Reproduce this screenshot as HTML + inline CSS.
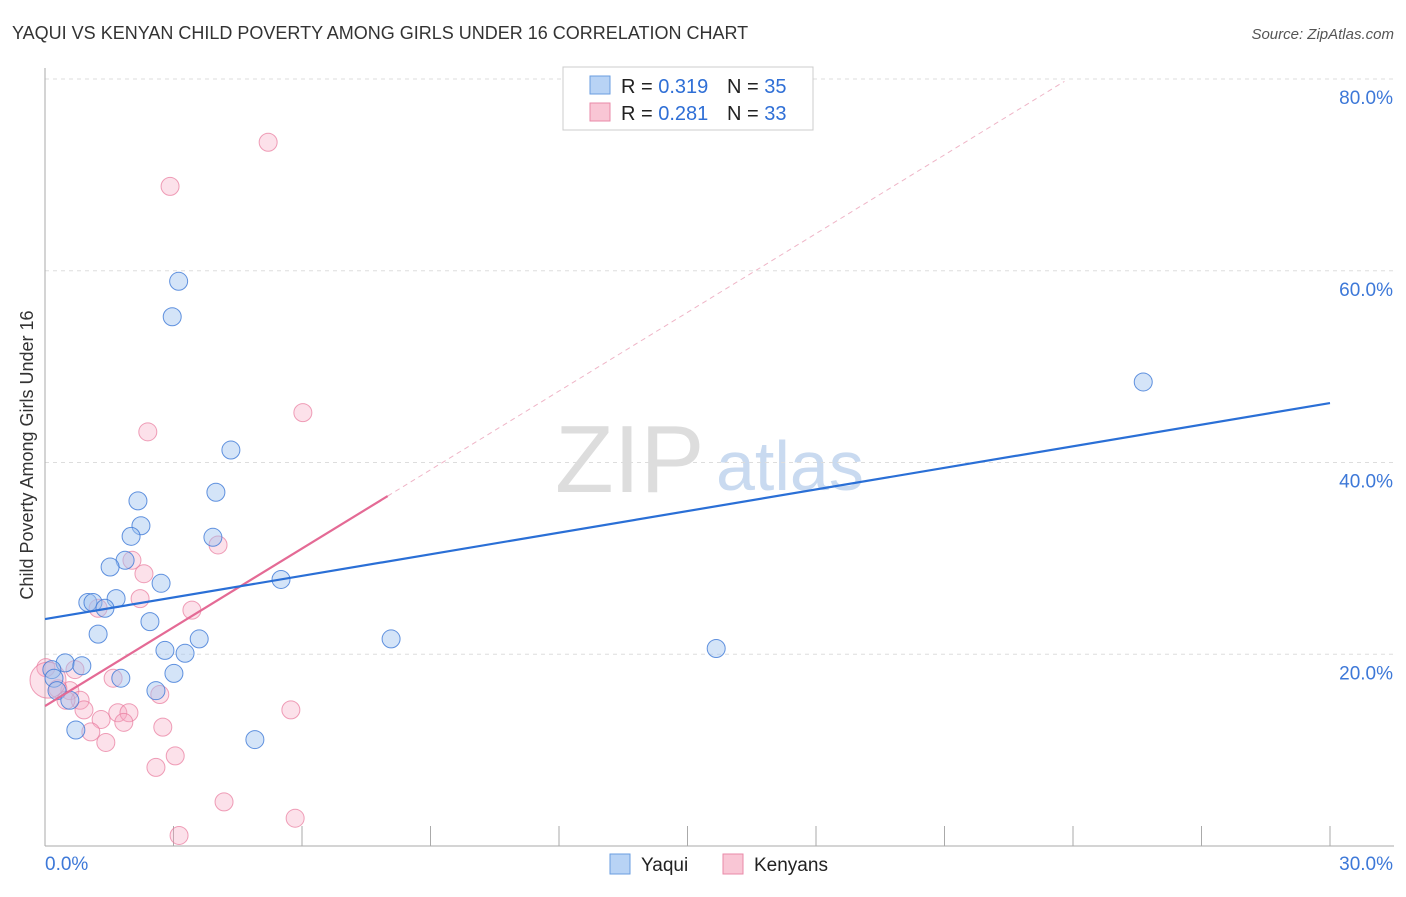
<!DOCTYPE html>
<html><head><meta charset="utf-8"><style>
body{margin:0;background:#fff;font-family:"Liberation Sans",sans-serif;}
svg text{font-family:"Liberation Sans",sans-serif;}
</style></head><body>
<svg id="chart" width="1406" height="892" xmlns="http://www.w3.org/2000/svg">
<text x="12" y="39" font-size="18" fill="#333">YAQUI VS KENYAN CHILD POVERTY AMONG GIRLS UNDER 16 CORRELATION CHART</text>
<text x="1394" y="39" font-size="15" fill="#555" text-anchor="end" font-style="italic">Source: ZipAtlas.com</text>
<text transform="translate(33,455) rotate(-90)" font-size="18" fill="#333" text-anchor="middle">Child Poverty Among Girls Under 16</text>
<text x="555" y="492" font-size="96" fill="#ddd" font-family="Liberation Serif">ZIP</text>
<text x="716" y="490" font-size="70" fill="#c9daf0">atlas</text>
<g id="grid"></g><g id="marks"></g>
<g>
<rect x="563" y="67" width="250" height="63" fill="#fff" stroke="#ccc"/>
<rect x="590" y="76" width="20" height="18" fill="#b8d3f5" stroke="#6a9ee0"/>
<rect x="590" y="103" width="20" height="18" fill="#f9c6d5" stroke="#e98aa8"/>
<text x="621" y="93" font-size="20" fill="#222">R = <tspan fill="#2f6fd6">0.319</tspan></text>
<text x="727" y="93" font-size="20" fill="#222">N = <tspan fill="#2f6fd6">35</tspan></text>
<text x="621" y="120" font-size="20" fill="#222">R = <tspan fill="#2f6fd6">0.281</tspan></text>
<text x="727" y="120" font-size="20" fill="#222">N = <tspan fill="#2f6fd6">33</tspan></text>
</g>
<g>
<rect x="610" y="854" width="20" height="20" fill="#b8d3f5" stroke="#6a9ee0"/>
<text x="641" y="871" font-size="19" fill="#222">Yaqui</text>
<rect x="723" y="854" width="20" height="20" fill="#f9c6d5" stroke="#e98aa8"/>
<text x="754" y="871" font-size="19" fill="#222">Kenyans</text>
</g>
</svg>
<script>
const yTicks=[20,40,60,80];
const yTickLabels=["20.0%","40.0%","60.0%","80.0%"];
const xTicks=[0,3,6,9,12,15,18,21,24,27,30];
const yaquiX=[3.12,2.97,4.34,3.99,2.17,2.24,2.01,3.92,1.87,1.52,2.71,5.51,1.66,1.0,1.12,1.4,2.45,1.24,3.6,8.08,2.8,3.27,15.67,0.47,0.86,0.16,0.21,1.77,3.01,2.59,0.28,0.58,0.72,4.9,25.64];
const yaquiY=[58.9,55.2,41.3,36.9,36.0,33.4,32.3,32.2,29.8,29.1,27.4,27.8,25.8,25.4,25.4,24.8,23.4,22.1,21.6,21.6,20.4,20.1,20.6,19.1,18.8,18.4,17.5,17.5,18.0,16.2,16.2,15.2,12.1,11.1,48.4];
const kenyanX=[5.21,2.92,6.02,2.4,4.04,2.03,2.31,2.22,1.24,3.43,0.7,1.59,0.02,0.58,0.3,0.82,0.49,2.68,0.91,1.31,1.7,1.96,1.84,2.75,1.07,1.42,5.74,3.04,2.59,4.18,5.84,3.13,0.07];
const kenyanY=[73.4,68.8,45.2,43.2,31.4,29.8,28.4,25.8,24.8,24.6,18.4,17.5,18.6,16.2,16.4,15.2,15.2,15.8,14.2,13.2,13.9,13.9,12.9,12.4,11.9,10.8,14.2,9.4,8.2,4.6,2.9,1.1,17.3];
const yaquiLine=[23.67,46.2];
const kenyanLine=[14.6,36.5];
const X0=45,X1=1330,Y0=846,Y1=79;
const sx=v=>X0+(X1-X0)*v/30, sy=v=>Y0-(Y0-Y1)*v/80;
const NS="http://www.w3.org/2000/svg";
const grid=document.getElementById('grid'),marks=document.getElementById('marks');
function mk(tag,attrs,parent){const e=document.createElementNS(NS,tag);for(const k in attrs)e.setAttribute(k,attrs[k]);parent.appendChild(e);return e;}
yTicks.forEach((t,i)=>{
 const l=mk('line',{x1:X0,x2:1394,y1:sy(t),y2:sy(t),stroke:'#ddd','stroke-dasharray':'4,4'},grid);
 
 
 const tx=mk('text',{x:1393,y:sy(t)+25,'font-size':19,fill:'#3d78d8','text-anchor':'end'},grid);tx.textContent=yTickLabels[i];
 
 
});
const ax=mk('line',{x1:X0,x2:X0,y1:68,y2:Y0,stroke:'#aaa'},grid);


const bx=mk('line',{x1:X0,x2:1394,y1:Y0,y2:Y0,stroke:'#aaa'},grid);


xTicks.forEach(t=>{if(t>0){const l=mk('line',{x1:sx(t),x2:sx(t),y1:826,y2:Y0,stroke:'#aaa'},grid);
 
 }});
const xl0=mk('text',{x:45,y:870,'font-size':19,fill:'#3d78d8'},grid);xl0.textContent='0.0%';


const xl1=mk('text',{x:1393,y:870,'font-size':19,fill:'#3d78d8','text-anchor':'end'},grid);xl1.textContent='30.0%';


kenyanX.forEach((x,i)=>{const r=(i===kenyanX.length-1)?18:9;const c=mk('circle',{cx:sx(x),cy:sy(kenyanY[i]),r:r,fill:'rgba(247,170,195,0.35)',stroke:'rgba(232,120,155,0.7)','stroke-width':1},marks);
 
 });
yaquiX.forEach((x,i)=>{const c=mk('circle',{cx:sx(x),cy:sy(yaquiY[i]),r:9,fill:'rgba(160,195,240,0.45)',stroke:'rgba(60,120,215,0.8)','stroke-width':1},marks);
 
 });
const ks=(kenyanLine[1]-kenyanLine[0])/8;
const kd=mk('line',{x1:sx(8),y1:sy(kenyanLine[1]),x2:sx(23.8),y2:sy(kenyanLine[0]+ks*23.8),stroke:'#efb5c7','stroke-dasharray':'5,4','stroke-width':1},marks);


const kl=mk('line',{x1:sx(0),y1:sy(kenyanLine[0]),x2:sx(8),y2:sy(kenyanLine[1]),stroke:'#e46a95','stroke-width':2.2},marks);


const yl=mk('line',{x1:sx(0),y1:sy(yaquiLine[0]),x2:sx(30),y2:sy(yaquiLine[1]),stroke:'#2a6fd6','stroke-width':2.2},marks);


</script>
</body></html>
